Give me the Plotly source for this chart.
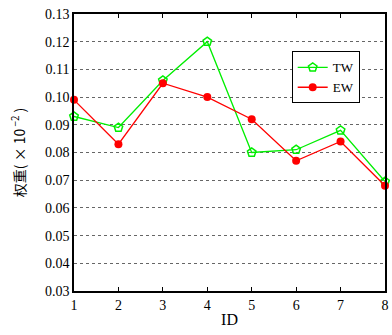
import plotly.graph_objects as go

ids = [1, 2, 3, 4, 5, 6, 7, 8]
tw = [0.093, 0.089, 0.106, 0.120, 0.080, 0.081, 0.088, 0.0695]
ew = [0.099, 0.083, 0.105, 0.100, 0.092, 0.077, 0.084, 0.068]
yticks = [0.03, 0.04, 0.05, 0.06, 0.07, 0.08, 0.09, 0.10, 0.11, 0.12, 0.13]

fig = go.Figure()
fig.add_trace(go.Scatter(x=ids, y=tw, name="TW", mode="lines+markers",
                         line=dict(color="#00ee00", width=1.3),
                         marker=dict(symbol="pentagon-open", size=9, color="#00ee00", line=dict(width=1.5)),
                         cliponaxis=False))
fig.add_trace(go.Scatter(x=ids, y=ew, name="EW", mode="lines+markers",
                         line=dict(color="#ff0000", width=1.3),
                         marker=dict(symbol="circle", size=8, color="#ff0000"),
                         cliponaxis=False))

font = "Liberation Serif, Times New Roman, serif"
fig.update_layout(
    width=392, height=335,
    margin=dict(l=74, r=3, t=14, b=44),
    paper_bgcolor="white", plot_bgcolor="white",
    font=dict(family=font, size=14, color="black"),
    showlegend=True,
    legend=dict(x=0.70, y=0.865, xanchor="left", yanchor="top",
                bordercolor="black", borderwidth=1, bgcolor="white",
                font=dict(size=13, family=font), tracegroupgap=0,
                itemwidth=30),
    xaxis=dict(range=[1, 8], tickvals=ids, ticktext=[str(i) for i in ids],
               showgrid=False, zeroline=False, showline=True, linecolor="black",
               linewidth=1.5, mirror="ticks", ticks="inside", ticklen=4,
               tickcolor="black",
               title=dict(text="ID", standoff=2, font=dict(size=16, family=font))),
    yaxis=dict(range=[0.03, 0.13], tickvals=yticks,
               ticktext=["%.2f" % v for v in yticks],
               showgrid=True, gridcolor="#666666", griddash="dot", gridwidth=1,
               zeroline=False, showline=True, linecolor="black", linewidth=1.5,
               mirror=True, ticks="",
               title=dict(text="权重( × 10<sup> −2</sup> )", standoff=16,
                          font=dict(size=14, family="Noto Sans CJK SC, " + font))),
)
fig.write_html("out.html")
